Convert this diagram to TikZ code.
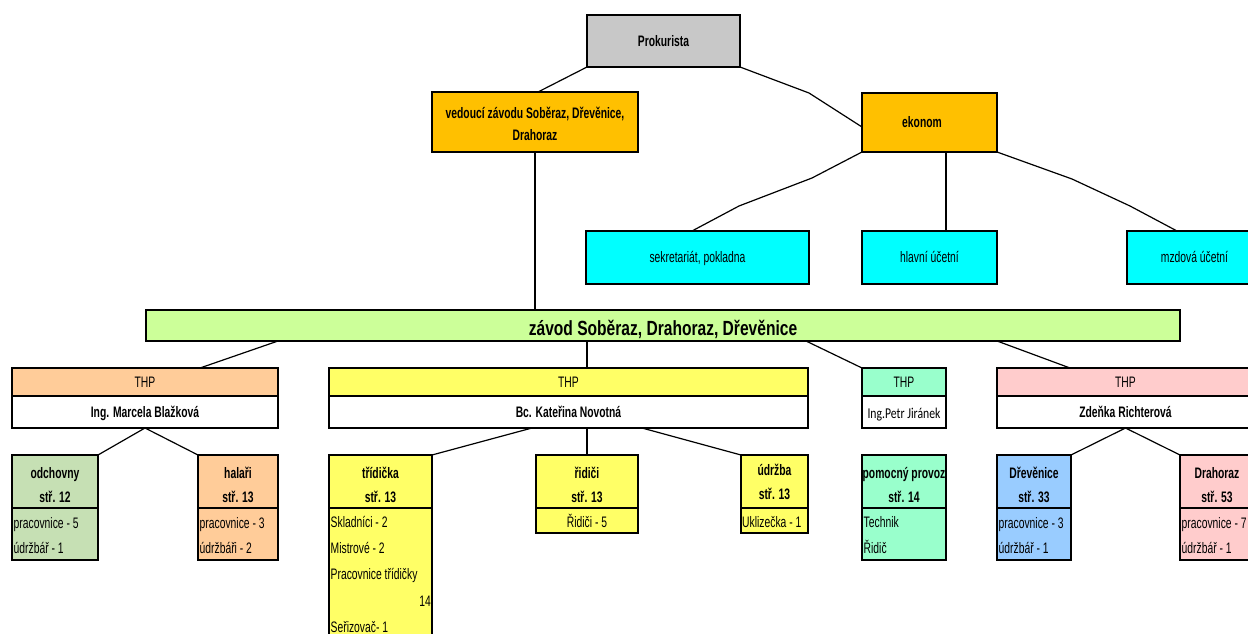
\documentclass[tikz,border=0pt]{standalone}
\usepackage{fontspec}
\setmainfont{Liberation Sans}[FakeStretch=0.68]
\newfontfamily\titlefont{Liberation Sans}[FakeStretch=0.76]
\newfontfamily\calibri{Carlito}[FakeStretch=0.78]
\definecolor{cgray}{HTML}{C8C8C8}
\definecolor{corange}{HTML}{FFC000}
\definecolor{ccyan}{HTML}{00FFFF}
\definecolor{cgreen}{HTML}{CCFF99}
\definecolor{cpeach}{HTML}{FFCC99}
\definecolor{cmoss}{HTML}{C6E0B4}
\definecolor{cyellow}{HTML}{FFFF66}
\definecolor{cmint}{HTML}{99FFCC}
\definecolor{cpink}{HTML}{FFCCCC}
\definecolor{cblue}{HTML}{99CCFF}
% struts that fix the height of the first line in two-line boxes
\newcommand\hdstrut{\rule{0pt}{17.9bp}}
\newcommand\vdstrut{\rule{0pt}{14.9bp}}
\tikzset{
  box/.style={draw=black, line width=1.8bp, inner sep=0pt, outer sep=0pt, anchor=north west},
  one/.style={text height=10.9bp, text depth=0bp},
  bf/.style={font=\fontsize{15.2bp}{24bp}\selectfont\bfseries},
  rm/.style={font=\fontsize{15.2bp}{18bp}\selectfont},
  hdr/.style={box, bf, align=center, minimum height=53bp},
  item/.style={rm, inner sep=0pt, anchor=base west},
  link/.style={line width=1.2bp}
}
\begin{document}
\begin{tikzpicture}[x=1bp, y=-1bp]
\useasboundingbox (0,0) rectangle (1248,634);

% top management
\node[box, bf, one, fill=cgray, minimum width=153bp, minimum height=52bp] (P) at (587,15) {Prokurista};
\node[box, fill=corange, align=center, minimum width=206bp, minimum height=60bp,
      font=\fontsize{15.2bp}{22bp}\selectfont\bfseries] (V) at (432,92) {\vdstrut vedoucí závodu Soběraz, Dřevěnice,\\Drahoraz};
\node[box, bf, one, fill=corange, minimum width=135bp, minimum height=59bp] (E) at (862,93) {ekonom\hspace*{15bp}};

% economic department
\node[box, rm, one, fill=ccyan, minimum width=223bp, minimum height=53bp] (S1) at (586,231) {sekretariát, pokladna};
\node[box, rm, one, fill=ccyan, minimum width=135bp, minimum height=53bp] (S2) at (862,231) {hlavní účetní};
\node[box, rm, one, fill=ccyan, minimum width=135bp, minimum height=53bp] (S3) at (1127,231) {mzdová účetní};

% plant bar
\node[box, fill=cgreen, minimum width=1034bp, minimum height=31bp, text height=19.7bp, text depth=0bp,
      font=\titlefont\fontsize{20.5bp}{24bp}\selectfont\bfseries] (Z) at (146,310) {závod Soběraz, Drahoraz, Dřevěnice};

% THP heads
\node[box, rm, one, fill=cpeach, minimum width=266bp, minimum height=28bp] (T1) at (12,368) {THP};
\node[box, bf, one, fill=white, minimum width=266bp, minimum height=32bp] (N1) at (12,396) {Ing. Marcela Blažková};
\node[box, rm, one, fill=cyellow, minimum width=479bp, minimum height=28bp] (T2) at (329,368) {THP};
\node[box, bf, one, fill=white, minimum width=479bp, minimum height=32bp] (N2) at (329,396) {Bc. Kateřina Novotná};
\node[box, rm, one, fill=cmint, minimum width=84bp, minimum height=28bp] (T3) at (862,368) {THP};
\node[box, fill=white, minimum width=84bp, minimum height=32bp, text height=12.5bp, text depth=0bp,
      font=\calibri\fontsize{15bp}{18bp}\selectfont] (N3) at (862,396) {Ing.Petr Jiránek};
\node[box, rm, one, fill=cpink, minimum width=257bp, minimum height=28bp] (T4) at (997,368) {THP};
\node[box, bf, one, fill=white, minimum width=257bp, minimum height=32bp] (N4) at (997,396) {Zdeňka Richterová};

% sections: staff cells
\node[box, fill=cmoss, minimum width=86bp, minimum height=52bp] (C1i) at (12,508) {};
\node[box, fill=cpeach, minimum width=80bp, minimum height=52bp] (C2i) at (198,508) {};
\node[box, fill=cyellow, minimum width=103bp, minimum height=150bp] (C3i) at (329,508) {};
\node[box, fill=cyellow, minimum width=102bp, minimum height=25bp] (C4i) at (536,508) {};
\node[box, fill=cyellow, minimum width=67bp, minimum height=25bp] (C5i) at (741,508) {};
\node[box, fill=cmint, minimum width=84bp, minimum height=52bp] (C6i) at (862,508) {};
\node[box, fill=cblue, minimum width=74bp, minimum height=52bp] (C7i) at (997,508) {};
\node[box, fill=cpink, minimum width=74bp, minimum height=52bp] (C8i) at (1180,508) {};

% sections: headers
\node[hdr, fill=cmoss, minimum width=86bp] (C1) at (12,455) {\hdstrut odchovny\\stř. 12};
\node[hdr, fill=cpeach, minimum width=80bp] (C2) at (198,455) {\hdstrut halaři\\stř. 13};
\node[hdr, fill=cyellow, minimum width=103bp] (C3) at (329,455) {\hdstrut třídička\\stř. 13};
\node[hdr, fill=cyellow, minimum width=102bp] (C4) at (536,455) {\hdstrut řidiči\\stř. 13};
\node[hdr, fill=cyellow, minimum width=67bp] (C5) at (741,455) {údržba\\stř. 13};
\node[hdr, fill=cmint, minimum width=84bp] (C6) at (862,455) {\hdstrut pomocný provoz\\stř. 14};
\node[hdr, fill=cblue, minimum width=74bp] (C7) at (997,455) {\hdstrut Dřevěnice\\stř. 33};
\node[hdr, fill=cpink, minimum width=74bp] (C8) at (1180,455) {\hdstrut Drahoraz\\stř. 53};

% staff lists
\node[item] (C1a) at (13.5,528.4) {pracovnice - 5};
\node[item] (C1b) at (13.5,553.4) {údržbář - 1};
\node[item] (C2a) at (199.5,528.4) {pracovnice - 3};
\node[item] (C2b) at (199.5,553.4) {údržbáři - 2};
\node[item] (C3a) at (330.5,527.4) {Skladníci - 2};
\node[item] (C3b) at (330.5,553.4) {Mistrové - 2};
\node[item] (C3c) at (330.5,579.4) {Pracovnice třídičky};
\node[item, anchor=base east] (C3d) at (431,606.4) {14};
\node[item] (C3e) at (330.5,632.4) {Seřizovač- 1};
\node[item, anchor=base] (C4a) at (587,527.4) {Řidiči - 5};
\node[item] (C5a) at (742,527.4) {Uklizečka - 1};
\node[item] (C6a) at (863.5,527.4) {Technik};
\node[item] (C6b) at (863.5,553.4) {Řidič};
\node[item] (C7a) at (998.5,528.4) {pracovnice - 3};
\node[item] (C7b) at (998.5,553.4) {údržbář - 1};
\node[item] (C8a) at (1181.5,528.4) {pracovnice - 7};
\node[item] (C8b) at (1181.5,553.4) {údržbář - 1};

% connectors: management
\coordinate (k1) at (809,93);
\draw[link] (P.south west) -- ([xshift=3bp]V.north);
\draw[link] (P.south east) -- (k1) -- ([yshift=-4.5bp]E.west);
\draw[link] (V.south) -- (V.south |- Z.north);

% connectors: economic department
\coordinate (k2) at (812,178);
\coordinate (k3) at (739,206);
\coordinate (k4) at (1072,179);
\coordinate (k5) at (1130,206);
\draw[link] (E.south west) -- (k2) -- (k3) -- ([xshift=-5.5bp]S1.north);
\draw[link] ([xshift=16.5bp]E.south) -- ([xshift=16.5bp]E.south |- S2.north);
\draw[link] (E.south east) -- (k4) -- (k5) -- ([xshift=50bp]S3.north west);

% connectors: plant to THP
\draw[link] ([xshift=132bp]Z.south west) -- ([xshift=188bp]T1.north west);
\draw[link] ([xshift=18.5bp]T2.north) -- ([xshift=18.5bp]T2.north |- Z.south);
\draw[link] ([xshift=660bp]Z.south west) -- (T3.north west);
\draw[link] ([xshift=851bp]Z.south west) -- ([xshift=73bp]T4.north west);

% connectors: THP to sections
\draw[link] (N1.south) -- (C1.north east);
\draw[link] (N1.south) -- (C2.north west);
\draw[link] ([xshift=-36.5bp]N2.south) -- (C3.north east);
\draw[link] (C4.north |- N2.south) -- (C4.north);
\draw[link] ([xshift=73.5bp]N2.south) -- (C5.north west);
\draw[link] (N4.south) -- (C7.north east);
\draw[link] (N4.south) -- (C8.north west);
\end{tikzpicture}
\end{document}
